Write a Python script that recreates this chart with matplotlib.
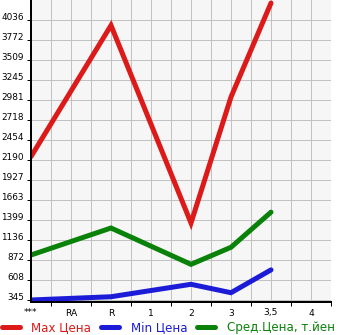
import numpy as np
import matplotlib
matplotlib.use("Agg")
import matplotlib.pyplot as plt
from matplotlib.lines import Line2D

categories = ["***", "RA", "R", "1", "2", "3", "3,5", "4"]
max_price = [2235, None, 3965, None, 1360, 3021, 4260, None]
min_price = [345, None, 388, None, 552, 441, 742, None]
avg_price = [938, None, 1294, None, 815, 1040, 1503, None]
ytick_labels = ["345", "608", "872", "1136", "1399", "1663", "1927", "2190",
                "2454", "2718", "2981", "3245", "3509", "3772", "4036"]
series_names = ["Max Цена", "Min Цена", "Сред.Цена, т.йен"]
colors = ["#dc1a1a", "#1c1cd8", "#0a820a"]

W, H = 345, 335
PX = 0.72  # points per pixel at dpi 100
fig = plt.figure(figsize=(W / 100, H / 100), dpi=100)
fig.patch.set_facecolor("white")
ax = fig.add_axes([31 / W, 1 - 301.5 / H, 300 / W, 301.5 / H])
ax.set_facecolor("#f6f6f6")

yt = [float(v) for v in ytick_labels]
step = (yt[-1] - yt[0]) / (len(yt) - 1)
ax.set_ylim(yt[0] - 1.5 / 20 * step, yt[-1] + step)
ax.set_xlim(0, len(categories) - 0.5)

ax.set_yticks(yt)
ax.set_yticklabels(ytick_labels, fontsize=6.4, va="baseline")
ax.tick_params(axis="y", length=4 * PX, width=1 * PX, pad=3 * PX, color="black")

ax.set_xticks(range(len(categories)))
ax.set_xticklabels(categories, fontsize=6.6)
ax.tick_params(axis="x", which="major", length=0, pad=7 * PX)
ax.set_xticks(np.arange(0.5, len(categories), 1.0), minor=True)
ax.tick_params(axis="x", which="minor", length=4 * PX, width=1 * PX, color="black")

for v in yt:
    ax.axhline(v, color="#c2c2c2", lw=1 * PX, zorder=1)
for xv in np.arange(0, len(categories), 0.5):
    ax.axvline(xv, color="#c2c2c2", lw=1 * PX, zorder=1)

for s in ["top", "right"]:
    ax.spines[s].set_visible(False)
for s in ["left", "bottom"]:
    ax.spines[s].set_linewidth(2 * PX)
    ax.spines[s].set_color("black")
    ax.spines[s].set_zorder(5)

for vals, c in zip([max_price, min_price, avg_price], colors):
    xs = [i for i, v in enumerate(vals) if v is not None]
    ys = [v for v in vals if v is not None]
    ax.plot(xs, ys, color=c, lw=5 * PX, solid_capstyle="round",
            solid_joinstyle="miter", zorder=3)

handles = [Line2D([0], [0], color=c, lw=5 * PX, solid_capstyle="round") for c in colors]
leg = fig.legend(handles, series_names, loc="center left",
                 bbox_to_anchor=(2 / W, 1 - 328 / H), ncol=3, frameon=False,
                 fontsize=8.6, handlelength=1.5, handletextpad=0.95,
                 columnspacing=0.85, borderpad=0, borderaxespad=0)
for t, c in zip(leg.get_texts(), colors):
    t.set_color(c)

fig.savefig("out.png", dpi=100)
